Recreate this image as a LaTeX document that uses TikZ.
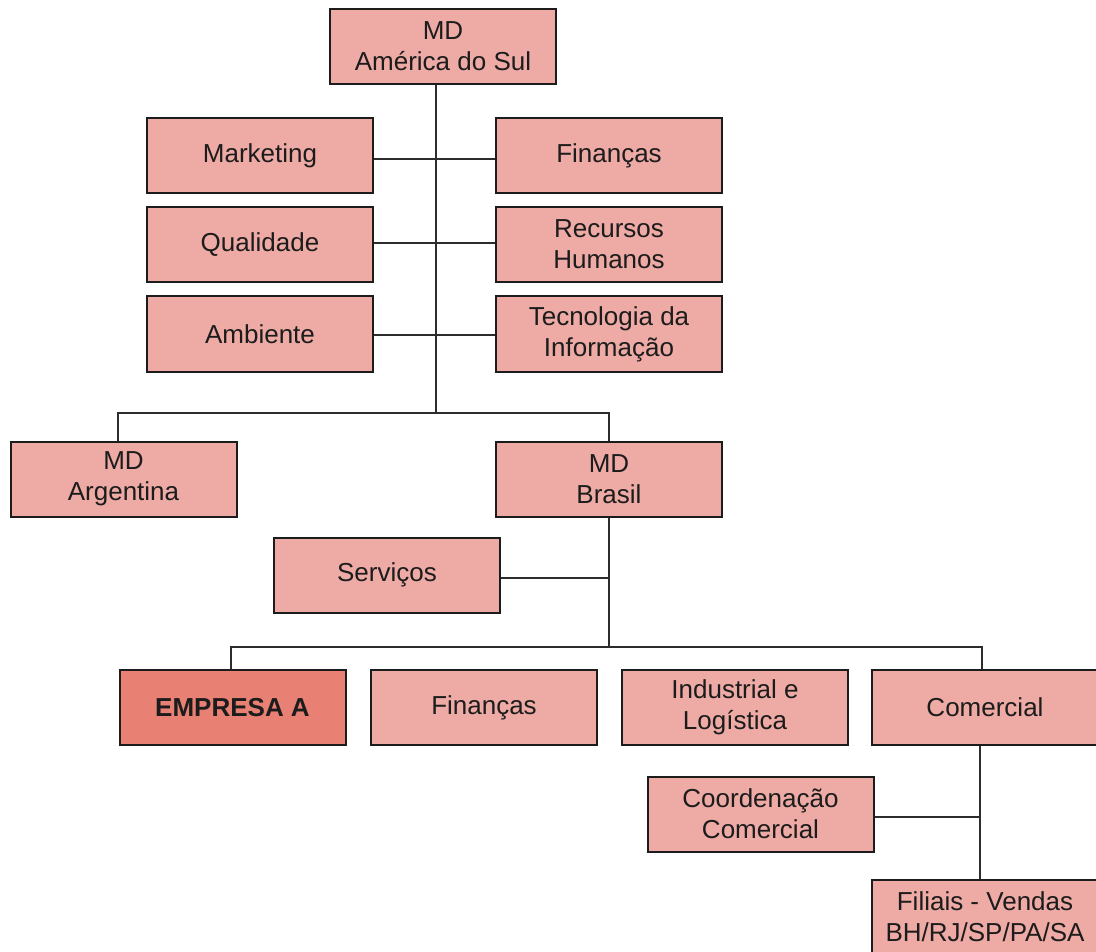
\documentclass[tikz,border=0pt]{standalone}
\usepackage{fontspec}
\setmainfont{Liberation Sans}
\definecolor{boxfill}{RGB}{238,170,164}
\definecolor{boxhot}{RGB}{232,128,116}
\definecolor{boxline}{RGB}{28,28,28}
\definecolor{wire}{RGB}{45,45,45}
\begin{document}
\begin{tikzpicture}[x=1pt,y=-1pt,
  unit/.style={draw=boxline, line width=2pt, fill=boxfill, text=boxline,
    minimum width=226pt, minimum height=75pt, inner sep=0pt, align=center,
    font=\fontsize{26}{31}\selectfont},
  hot/.style={unit, fill=boxhot, font=\fontsize{26}{31}\selectfont\bfseries},
  link/.style={draw=wire, line width=1.2pt}]
\clip (0,0) rectangle (1096,952);
\fill[white] (0,0) rectangle (1096,952);

% head office and staff functions
\node[unit] (top) at (443,46.5) {MD\\América do Sul};
\node[unit] (mkt) at (260,155.5) {Marketing};
\node[unit] (fin1) at (609,155.5) {Finanças};
\node[unit] (qual) at (260,244.5) {Qualidade};
\node[unit] (rh) at (609,244.5) {Recursos\\Humanos};
\node[unit] (amb) at (260,334) {Ambiente};
\node[unit] (ti) at (609,334) {Tecnologia da\\Informação};

% country units
\node[unit] (arg) at (123.5,479) {MD\\Argentina};
\node[unit] (bra) at (609,479) {MD\\Brasil};
\node[unit] (serv) at (387,575) {Serviços};

% Brazilian divisions
\node[hot] (emp) at (232.5,707.5) {EMPRESA A};
\node[unit] (fin2) at (484,707.5) {Finanças};
\node[unit] (ind) at (735,707.5) {Industrial e\\Logística};
\node[unit] (com) at (985,707.5) {Comercial};
\node[unit] (coord) at (760.5,814) {Coordenação\\Comercial};
\node[unit] (fil) at (985,917) {Filiais - Vendas\\BH/RJ/SP/PA/SA};

% main trunk (shifts are in page points, positive = upwards)
\coordinate (j1) at (436,413);
\draw[link] ([xshift=-7pt]top.south) -- (j1);
\draw[link] ([yshift=-3.5pt]mkt.east) -- ([yshift=-3.5pt]fin1.west);
\draw[link] ([yshift=1.5pt]qual.east) -- ([yshift=1.5pt]rh.west);
\draw[link] ([yshift=-1pt]amb.east) -- ([yshift=-1pt]ti.west);
\draw[link] ([xshift=-5.5pt]arg.north) |- (j1) -| (bra.north);

% Brazil trunk
\coordinate (j2) at (609,647);
\draw[link] (bra.south) -- (j2);
\draw[link] ([yshift=-3pt]serv.east) -- ([yshift=-3pt]serv.east -| bra.south);
\draw[link] ([xshift=-1.5pt]emp.north) |- (j2) -| ([xshift=-3pt]com.north);

% commercial branch
\coordinate (j3) at ([xshift=-5pt]com.south);
\draw[link] (j3) -- ([xshift=-5pt]fil.north);
\draw[link] ([yshift=-3pt]coord.east) -- ([yshift=-3pt]coord.east -| j3);
\end{tikzpicture}
\end{document}
